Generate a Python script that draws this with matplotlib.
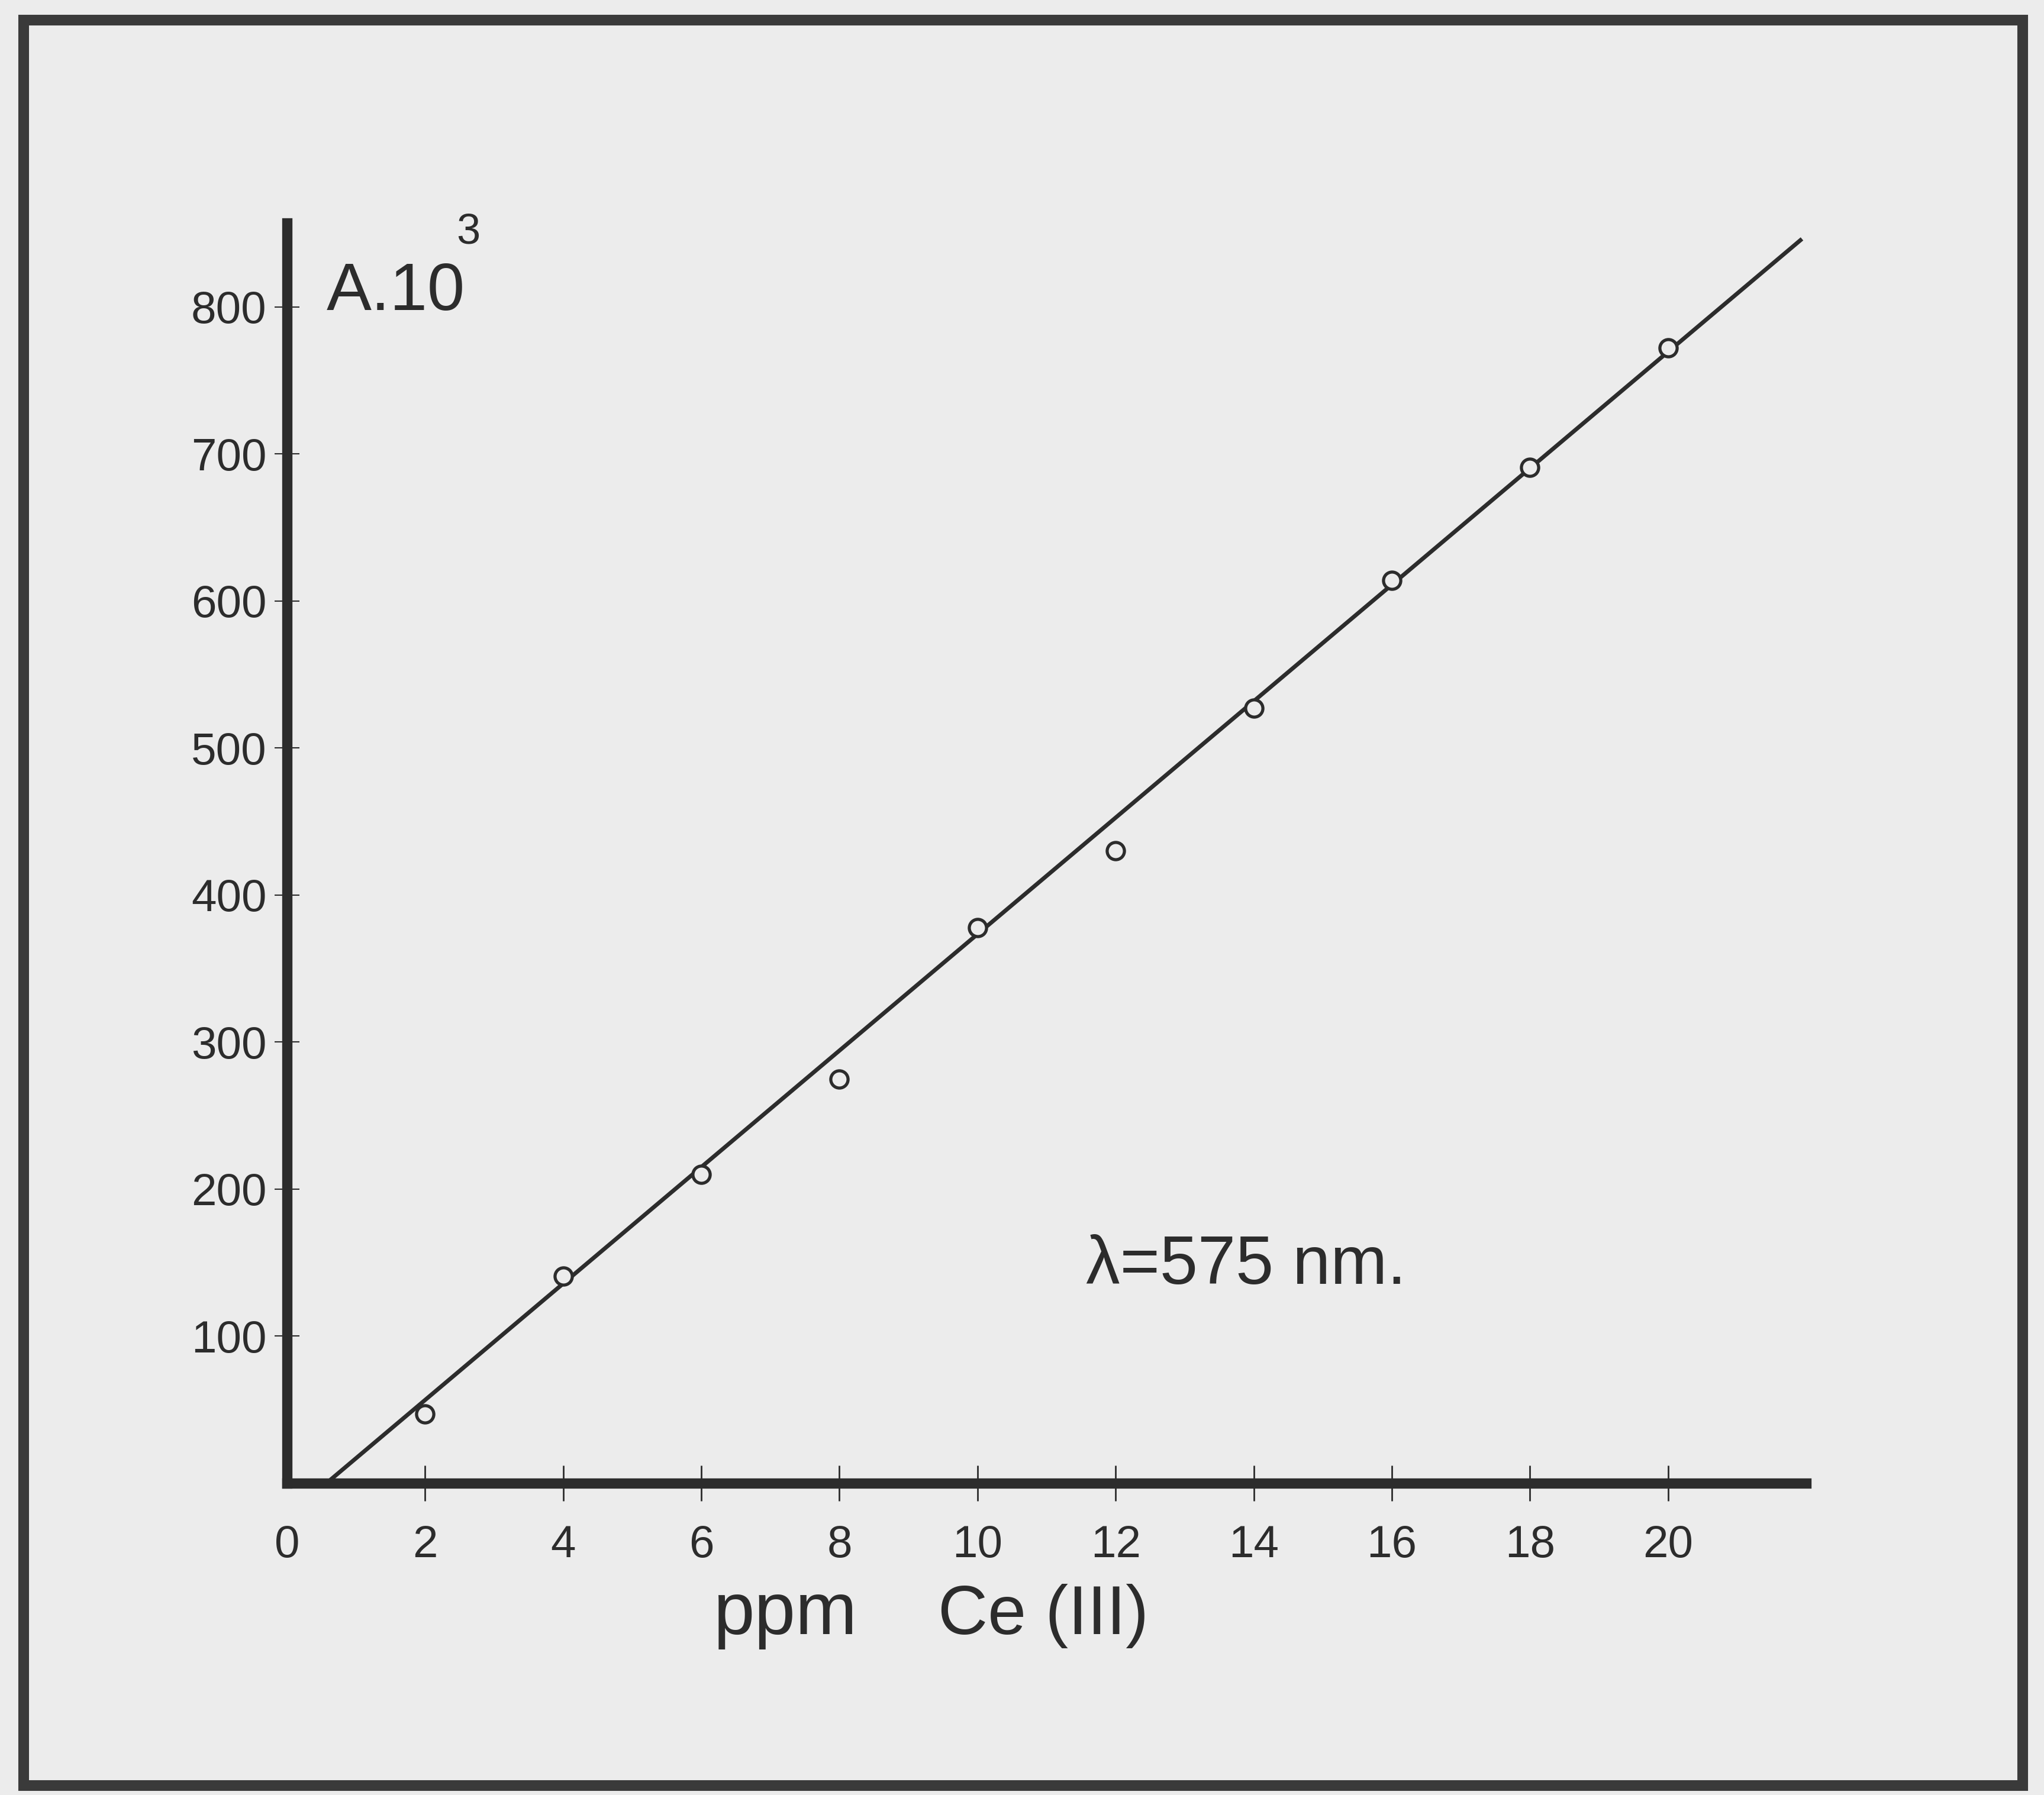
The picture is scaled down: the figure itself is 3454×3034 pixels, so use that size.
"""Calibration graph for Ce(III): absorbance (x10^3) against concentration at 575 nm."""
import matplotlib
matplotlib.use("Agg")
import matplotlib.pyplot as plt
from matplotlib.patches import Rectangle

# ---------------- data ----------------
conc_ppm = [2, 4, 6, 8, 10, 12, 14, 16, 18, 20]
absorb_1e3 = [47, 141, 210, 275, 378, 430, 527, 614, 691, 772]

# least-squares line as drawn on the sheet
fit_slope = 39.6
fit_intercept = -22.6
fit_range = [0.57, 21.94]

x_ticks = [0, 2, 4, 6, 8, 10, 12, 14, 16, 18, 20]
x_ticklabels = ["0", "2", "4", "6", "8", "10", "12", "14", "16", "18", "20"]
y_ticks = [100, 200, 300, 400, 500, 600, 700, 800]
y_ticklabels = ["100", "200", "300", "400", "500", "600", "700", "800"]

# ---------------- style ----------------
PAPER = "#ececec"
INK = "#2c2c2c"
SANS = ["Liberation Sans", "DejaVu Sans"]
plt.rcParams["font.family"] = SANS

W, H = 3455, 3034
fig = plt.figure(figsize=(W / 100, H / 100), dpi=100, facecolor=PAPER)
ax = fig.add_axes([485 / W, 527 / H, 2567 / W, 2130 / H])
ax.set_facecolor("none")
ax.set_xlim(0, 22)
ax.set_ylim(0, 857)

for side in ("top", "right"):
    ax.spines[side].set_visible(False)
for side in ("left", "bottom"):
    ax.spines[side].set_linewidth(12.5)
    ax.spines[side].set_color(INK)
    ax.spines[side].set_capstyle("projecting")

ax.set_xticks(x_ticks)
ax.set_xticklabels(x_ticklabels)
ax.set_yticks(y_ticks)
ax.set_yticklabels(y_ticklabels)
ax.tick_params(axis="x", direction="inout", length=43, width=2, color=INK,
               pad=29, labelsize=55, labelcolor=INK)
ax.tick_params(axis="y", direction="inout", length=30, width=1.5, color=INK,
               pad=10, labelsize=55, labelcolor=INK)
ax.xaxis.get_major_ticks()[0].tick1line.set_visible(False)

# fitted line
fx = fit_range
fy = [fit_slope * v + fit_intercept for v in fx]
ax.plot(fx, fy, color=INK, lw=5, solid_capstyle="butt", zorder=3)

# measured points (open circles)
ax.plot(conc_ppm, absorb_1e3, ls="none", marker="o", ms=21, mew=3.8,
        mec=INK, mfc=PAPER, zorder=4, clip_on=False)

# ---------------- labels ----------------
ax.text(0.57, 798, "A.10", fontsize=82, color=INK,
        ha="left", va="baseline")
ax.text(2.45, 843, "3", fontsize=52, color=INK,
        ha="left", va="baseline")

ax.text(7.22, -102.7, "ppm", fontsize=90, color=INK,
        ha="center", va="baseline", clip_on=False)
ax.text(10.95, -102.7, "Ce (III)", fontsize=84, color=INK,
        ha="center", va="baseline", clip_on=False)

ax.text(11.57, 135.7, "λ=575 nm.", fontsize=83, color=INK,
        ha="left", va="baseline")

# outer frame
fig.patches.append(Rectangle((40 / W, 16 / H), (3418 - 40) / W, (3018 - 34) / H,
                             transform=fig.transFigure, fill=False,
                             edgecolor="#3a3a3a", linewidth=13))

fig.savefig("out.png", dpi=100, facecolor=PAPER)
